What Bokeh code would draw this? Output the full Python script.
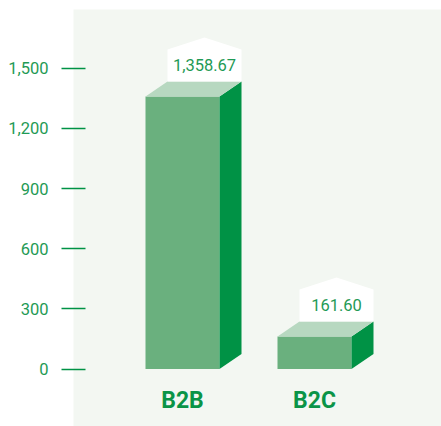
from bokeh.plotting import figure
from bokeh.models import Range1d, FixedTicker, NumeralTickFormatter, ColumnDataSource
from bokeh.core.properties import value
from bokeh.embed import file_html
from bokeh.resources import INLINE

categories = ["B2B", "B2C"]
values = [1358.67, 161.60]
y_ticks = [0, 300, 600, 900, 1200, 1500]

FRONT = "#6ab07e"
TOP = "#b7d8c0"
SIDE = "#009245"
PANEL = "#f3f7f2"
TXT = "#1f9a55"

PX_Y = 300.8 / 1500.0   # px per data unit (y)
PX_X = 132.0            # px per category step
y0 = -(426 - 368.5) / PX_Y
y1 = (368.5 - 9) / PX_Y
x0 = (73 - 182) / PX_X
x1 = x0 + 368 / PX_X

p = figure(width=441, height=426, output_backend="svg", toolbar_location=None,
           x_range=Range1d(x0, x1), y_range=Range1d(y0, y1),
           min_border_left=73, min_border_right=0, min_border_top=9, min_border_bottom=0)
p.xaxis.visible = False
p.xgrid.visible = False
p.ygrid.visible = False
p.outline_line_color = None
p.background_fill_color = PANEL
p.border_fill_color = "white"

ax = p.yaxis[0]
ax.ticker = FixedTicker(ticks=y_ticks)
ax.formatter = NumeralTickFormatter(format="0,0")
ax.axis_line_color = None
ax.minor_tick_line_color = None
ax.major_tick_line_color = SIDE
ax.major_tick_line_width = 1.5
ax.major_tick_out = 12
ax.major_tick_in = 12
ax.major_label_standoff = 13
ax.major_label_text_font = "Roboto"
ax.major_label_text_font_size = "16.5px"
ax.major_label_text_color = TXT

bw = 74 / PX_X
dx = 22 / PX_X
dy = 15 / PX_Y
box_h = 32 / PX_Y
roof = 12 / PX_Y

xs = list(range(len(categories)))
sx, sy, tx, ty, hx, hy = [], [], [], [], [], []
for i, v in zip(xs, values):
    xl, xr = i - bw / 2, i + bw / 2
    sx.append([xr, xr + dx, xr + dx, xr])
    sy.append([0, dy, v + dy, v])
    tx.append([xl, xr, xr + dx, xl + dx])
    ty.append([v, v, v + dy, v + dy])
    bl, br = xl + dx, xr + dx
    hx.append([bl, br, br, (bl + br) / 2, bl])
    hy.append([v + dy, v + dy, v + dy + box_h, v + dy + box_h + roof, v + dy + box_h])

p.vbar(x=xs, top=values, bottom=0, width=bw, fill_color=FRONT, line_color=None)
p.patches(xs=sx, ys=sy, fill_color=SIDE, line_color=None)
p.patches(xs=tx, ys=ty, fill_color=TOP, line_color=None)
p.patches(xs=hx, ys=hy, fill_color="white", line_color=None)

lab = ColumnDataSource(dict(x=[i + dx for i in xs],
                            y=[v + dy for v in values],
                            t=[f"{v:,.2f}" for v in values]))
p.text(x="x", y="y", text="t", source=lab, text_align="center", text_baseline="middle",
       y_offset=-17, text_font=value("Roboto"), text_font_size="16.5px", text_color=TXT)

p.text(x=xs, y=[0] * len(xs), text=categories, text_align="center", text_baseline="middle",
       y_offset=31, text_font=value("Roboto"), text_font_size="23px", text_font_style="bold",
       text_color="#0a9447")

open("out.html", "w").write(file_html(p, INLINE))
